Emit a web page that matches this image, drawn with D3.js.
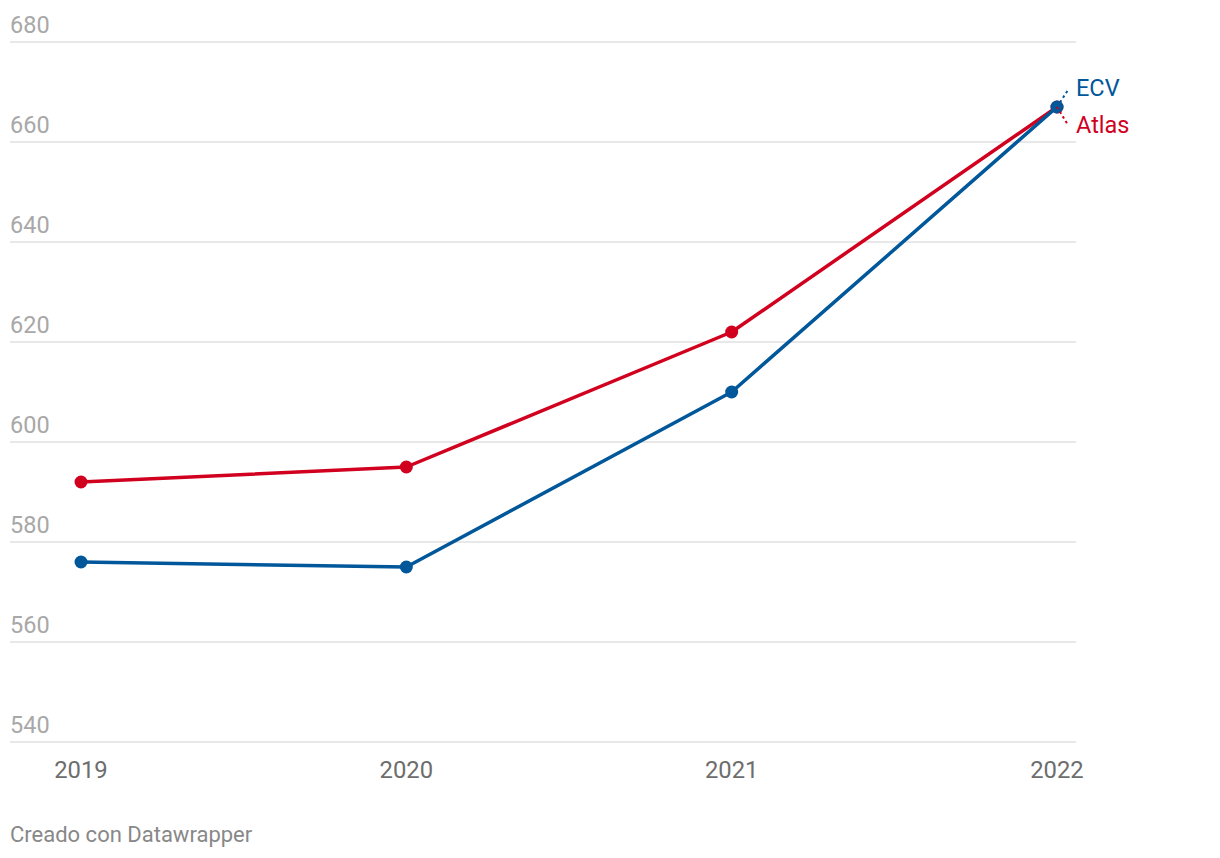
<!DOCTYPE html>
<html><head><meta charset="utf-8">
<script src="https://cdn.jsdelivr.net/npm/d3@7"></script>
<style>body{margin:0;background:#fff}svg{display:block;font-family:Roboto,sans-serif}</style>
</head><body><svg id="c" width="1220" height="858"></svg>
<script>
const years = ["2019","2020","2021","2022"];
const atlas = [592, 595, 622, 667];
const ecv = [576, 575, 610, 667];
const yTicks = [540,560,580,600,620,640,660,680];
const seriesNames = ["ECV","Atlas"];
const seriesColors = ["#00579a","#d1001f"];

const svg = d3.select("#c");
const x = d3.scalePoint().domain(years).range([81,1057]);
const y = d3.scaleLinear().domain([540,680]).range([742,42]);

const g = svg.append("g");
g.selectAll("line.grid").data(yTicks).join("line")
  .attr("x1",10).attr("x2",1076).attr("y1",d=>y(d)).attr("y2",d=>y(d))
  .attr("stroke","#e1e1e1").attr("stroke-width",1.5);
g.selectAll("text.yl").data(yTicks).join("text")
  .attr("x",10).attr("y",d=>y(d)-9).text(d=>d)
  .attr("font-size",23.5).attr("fill","#a8a8a8");
g.selectAll("text.xl").data(years).join("text")
  .attr("x",d=>x(d)).attr("y",778).attr("text-anchor","middle").text(d=>d)
  .attr("font-size",23.8).attr("fill","#6d6d6d");

const series = [{name:"Atlas",vals:atlas,color:seriesColors[1]},{name:"ECV",vals:ecv,color:seriesColors[0]}];
const line = d3.line().x((d,i)=>x(years[i])).y(d=>y(d));
series.forEach(s=>{
  g.append("path").attr("d",line(s.vals)).attr("fill","none")
    .attr("stroke",s.color).attr("stroke-width",3.5).attr("stroke-linejoin","round");
  g.selectAll(null).data(s.vals).join("circle")
    .attr("cx",(d,i)=>x(years[i])).attr("cy",d=>y(d)).attr("r",6.5).attr("fill",s.color);
});

// labels
const lx = x("2022"), ly = y(667);
g.append("line").attr("x1",lx).attr("y1",ly).attr("x2",lx+11).attr("y2",ly-17)
  .attr("stroke",seriesColors[0]).attr("stroke-width",2).attr("stroke-dasharray","2.5,3");
g.append("line").attr("x1",lx).attr("y1",ly).attr("x2",lx+11).attr("y2",ly+18)
  .attr("stroke",seriesColors[1]).attr("stroke-width",2).attr("stroke-dasharray","2.5,3");
g.append("text").attr("x",1076).attr("y",96).text(seriesNames[0])
  .attr("font-size",23.5).attr("fill",seriesColors[0]);
g.append("text").attr("x",1076).attr("y",133).text(seriesNames[1])
  .attr("font-size",23.5).attr("fill",seriesColors[1]);

svg.append("text").attr("x",10).attr("y",842).text("Creado con Datawrapper")
  .attr("font-size",22).attr("fill","#888");
</script></body></html>
